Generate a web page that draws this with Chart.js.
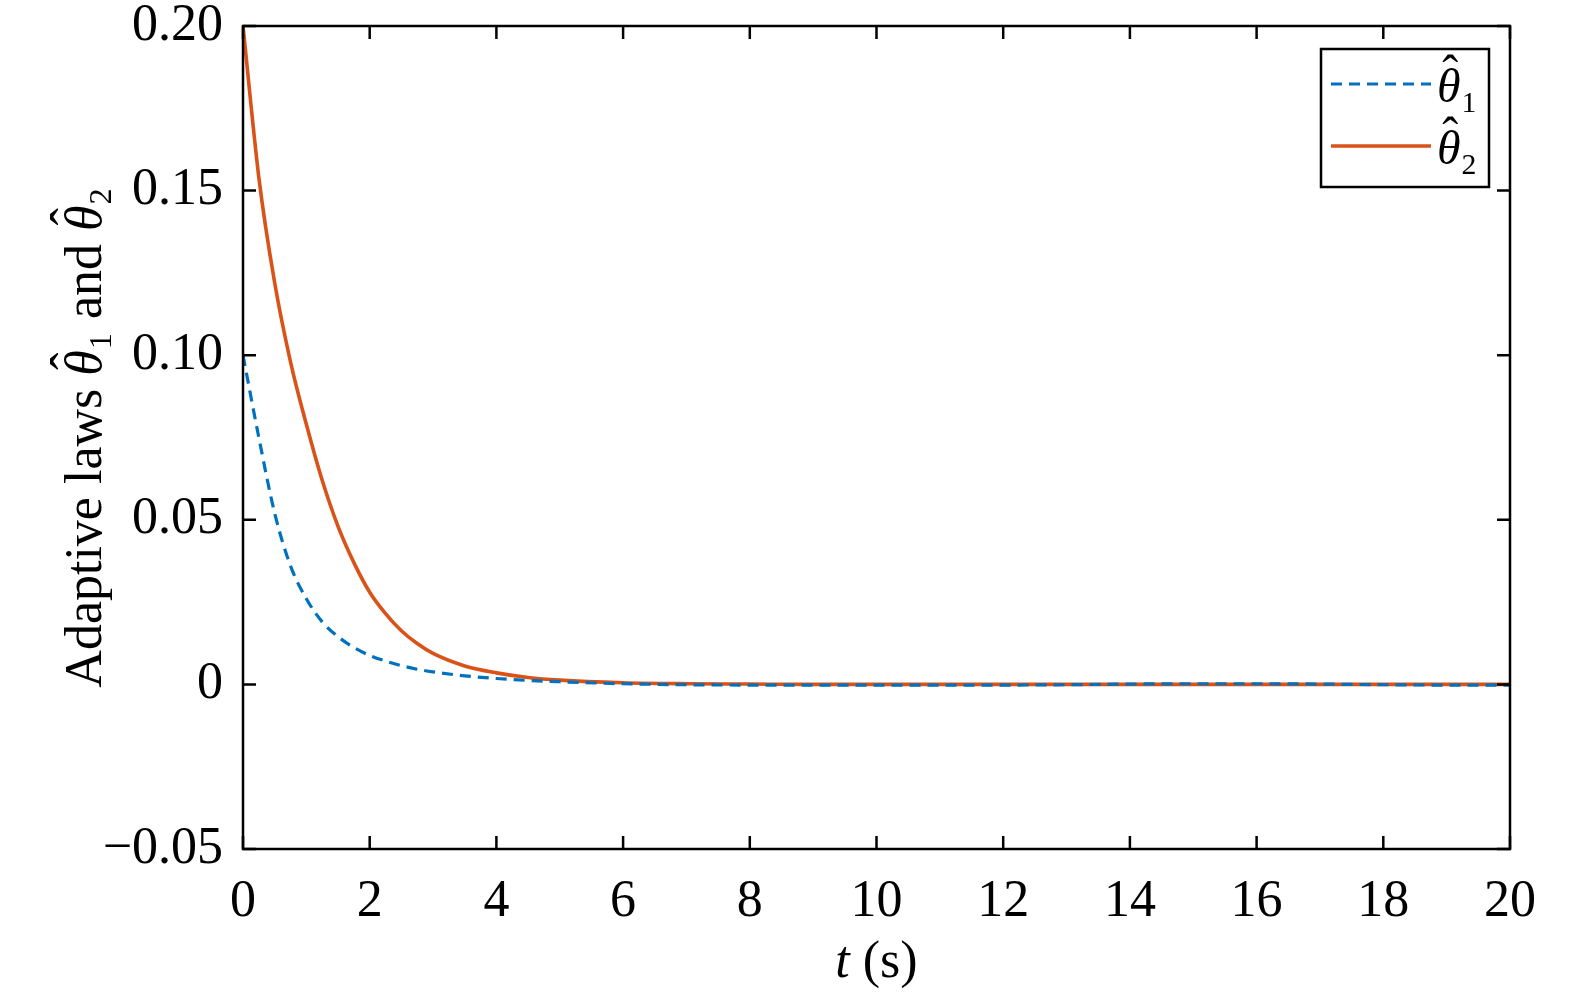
<!DOCTYPE html>
<html>
<head>
<meta charset="utf-8">
<script src="https://cdn.jsdelivr.net/npm/chart.js@4"></script>
<style>
  html, body { margin: 0; padding: 0; background: #fff; overflow: hidden; }
  #wrap { width: 1575px; height: 994px; position: relative; }
  canvas { display: block; }
</style>
</head>
<body>
<div id="wrap"><canvas id="canvas"></canvas></div>
<script>
// time samples (s)
const tVals = [0, 0.25, 0.5, 0.75, 1, 1.25, 1.5, 1.75, 2, 2.25, 2.5, 2.75, 3, 3.5, 4, 4.5, 5, 6, 7, 8, 9, 10, 11, 12, 13, 14, 15, 16, 17, 18, 19, 20];
// theta1 hat (blue dashed)
const theta1 = [0.100, 0.075, 0.052, 0.036, 0.026, 0.019, 0.0145, 0.0112, 0.0088, 0.0071, 0.0057, 0.0046, 0.0038, 0.0026, 0.0018, 0.0012, 0.0008, 0.0002, -0.0001, -0.0002, -0.0002, -0.0002, -0.0002, -0.0002, -0.0001, 0.0001, 0.0002, 0.0002, 0.0001, -0.0001, -0.0002, -0.0002];
// theta2 hat (orange solid)
const theta2 = [0.200, 0.154, 0.122, 0.098, 0.079, 0.062, 0.048, 0.037, 0.028, 0.0215, 0.0163, 0.0124, 0.0094, 0.0056, 0.0035, 0.0021, 0.0013, 0.0005, 0.0002, 0.0001, 0, 0, 0, 0, 0, 0, 0, 0, 0, 0, 0, 0];
const xTicks = [0, 2, 4, 6, 8, 10, 12, 14, 16, 18, 20];
const yTicks = [-0.05, 0, 0.05, 0.10, 0.15, 0.20];

const serif = '"Liberation Serif", "Times New Roman", serif';
const blue = '#0072BD';
const orange = '#D95319';
const FS = 52;

function fmtY(v) {
  if (Math.abs(v) < 1e-9) return '0';
  return v.toFixed(2).replace('-', '\u2212');
}

// theta with hat and subscript, returns width
function drawThetaHat(ctx, x, y, sub, size, measureOnly) {
  ctx.font = 'italic ' + size + 'px ' + serif;
  const w = ctx.measureText('\u03B8').width;
  ctx.font = (size * 0.62) + 'px ' + serif;
  const ws = ctx.measureText(sub).width;
  if (!measureOnly) {
    ctx.font = 'italic ' + size + 'px ' + serif;
    ctx.fillText('\u03B8', x, y);
    ctx.font = size + 'px ' + serif;
    ctx.fillText('\u02C6', x + w * 0.22, y - size * 0.27);
    ctx.font = (size * 0.62) + 'px ' + serif;
    ctx.fillText(sub, x + w + 1, y + size * 0.2);
  }
  return w + ws + 2;
}

const framePlugin = {
  id: 'frame',
  afterDraw(chart) {
    const ctx = chart.ctx;
    const a = chart.chartArea;
    const xs = chart.scales.x, ys = chart.scales.y;
    ctx.save();
    ctx.strokeStyle = '#000';
    ctx.lineWidth = 2.5;
    ctx.strokeRect(a.left, a.top, a.right - a.left, a.bottom - a.top);
    const tl = 13;
    ctx.beginPath();
    xTicks.forEach(v => {
      const px = xs.getPixelForValue(v);
      ctx.moveTo(px, a.bottom); ctx.lineTo(px, a.bottom - tl);
      ctx.moveTo(px, a.top); ctx.lineTo(px, a.top + tl);
    });
    yTicks.forEach(v => {
      const py = ys.getPixelForValue(v);
      ctx.moveTo(a.left, py); ctx.lineTo(a.left + tl, py);
      ctx.moveTo(a.right, py); ctx.lineTo(a.right - tl, py);
    });
    ctx.stroke();

    // legend
    const lx = 1321, ly = 49, lw = 168, lh = 138;
    ctx.fillStyle = '#fff';
    ctx.fillRect(lx, ly, lw, lh);
    ctx.lineWidth = 2.5;
    ctx.strokeRect(lx, ly, lw, lh);
    chart.data.datasets.forEach((ds, i) => {
      const yy = ly + 35 + i * 62;
      ctx.strokeStyle = ds.borderColor;
      ctx.lineWidth = ds.borderWidth;
      ctx.setLineDash(ds.borderDash || []);
      ctx.beginPath();
      ctx.moveTo(lx + 10, yy);
      ctx.lineTo(lx + 110, yy);
      ctx.stroke();
      ctx.setLineDash([]);
      ctx.fillStyle = '#000';
      ctx.textBaseline = 'alphabetic';
      ctx.textAlign = 'left';
      drawThetaHat(ctx, lx + 116, yy + 18, String(i + 1), 48);
    });

    // x title
    ctx.fillStyle = '#000';
    ctx.textBaseline = 'alphabetic';
    ctx.textAlign = 'left';
    ctx.font = 'italic ' + FS + 'px ' + serif;
    const wt = ctx.measureText('t').width;
    ctx.font = FS + 'px ' + serif;
    const wr = ctx.measureText(' (s)').width;
    const cx = (a.left + a.right) / 2;
    const sx = cx - (wt + wr) / 2;
    ctx.font = 'italic ' + FS + 'px ' + serif;
    ctx.fillText('t', sx, 977);
    ctx.font = FS + 'px ' + serif;
    ctx.fillText(' (s)', sx + wt, 977);

    // y title (rotated)
    ctx.translate(101, (a.top + a.bottom) / 2);
    ctx.rotate(-Math.PI / 2);
    const size = FS;
    ctx.font = size + 'px ' + serif;
    const p1 = 'Adaptive laws ', p2 = ' and ';
    const w1 = ctx.measureText(p1).width, w2 = ctx.measureText(p2).width;
    const wth = drawThetaHat(ctx, 0, 0, '1', size, true);
    const total = w1 + w2 + wth * 2;
    let px = -total / 2;
    ctx.font = size + 'px ' + serif;
    ctx.fillText(p1, px, 0); px += w1;
    drawThetaHat(ctx, px, 0, '1', size); px += wth;
    ctx.font = size + 'px ' + serif;
    ctx.fillText(p2, px, 0); px += w2;
    drawThetaHat(ctx, px, 0, '2', size);
    ctx.restore();
  }
};

const ctx = document.getElementById('canvas').getContext('2d');
new Chart(ctx, {
  type: 'line',
  data: {
    datasets: [{
      label: '\u03B8\u0302\u2081',
      data: tVals.map((t, i) => ({ x: t, y: theta1[i] })),
      borderColor: blue,
      borderWidth: 3.2,
      borderDash: [11, 7],
      pointRadius: 0,
      fill: false,
      cubicInterpolationMode: 'monotone'
    }, {
      label: '\u03B8\u0302\u2082',
      data: tVals.map((t, i) => ({ x: t, y: theta2[i] })),
      borderColor: orange,
      borderWidth: 3.6,
      pointRadius: 0,
      fill: false,
      cubicInterpolationMode: 'monotone'
    }]
  },
  options: {
    responsive: true,
    maintainAspectRatio: false,
    animation: false,
    devicePixelRatio: 1,
    layout: { padding: { left: 0, right: 65, top: 26, bottom: 0 } },
    plugins: { legend: { display: false }, tooltip: { enabled: false } },
    scales: {
      x: {
        type: 'linear', min: 0, max: 20,
        afterFit(s) { s.height = 145; },
        afterBuildTicks(s) { s.ticks = xTicks.map(v => ({ value: v })); },
        grid: { display: false },
        border: { display: false },
        ticks: { font: { family: serif, size: FS }, color: '#000', padding: 14, maxRotation: 0, autoSkip: false }
      },
      y: {
        type: 'linear', min: -0.05, max: 0.2,
        afterFit(s) { s.width = 243; },
        afterBuildTicks(s) { s.ticks = yTicks.map(v => ({ value: v })); },
        grid: { display: false },
        border: { display: false },
        // small lineHeight keeps the label overhang from pushing the plot box down
        ticks: { font: { family: serif, size: FS, lineHeight: 0.1 }, color: '#000', padding: 12, callback: v => fmtY(v) }
      }
    }
  },
  plugins: [framePlugin]
});
</script>
</body>
</html>
